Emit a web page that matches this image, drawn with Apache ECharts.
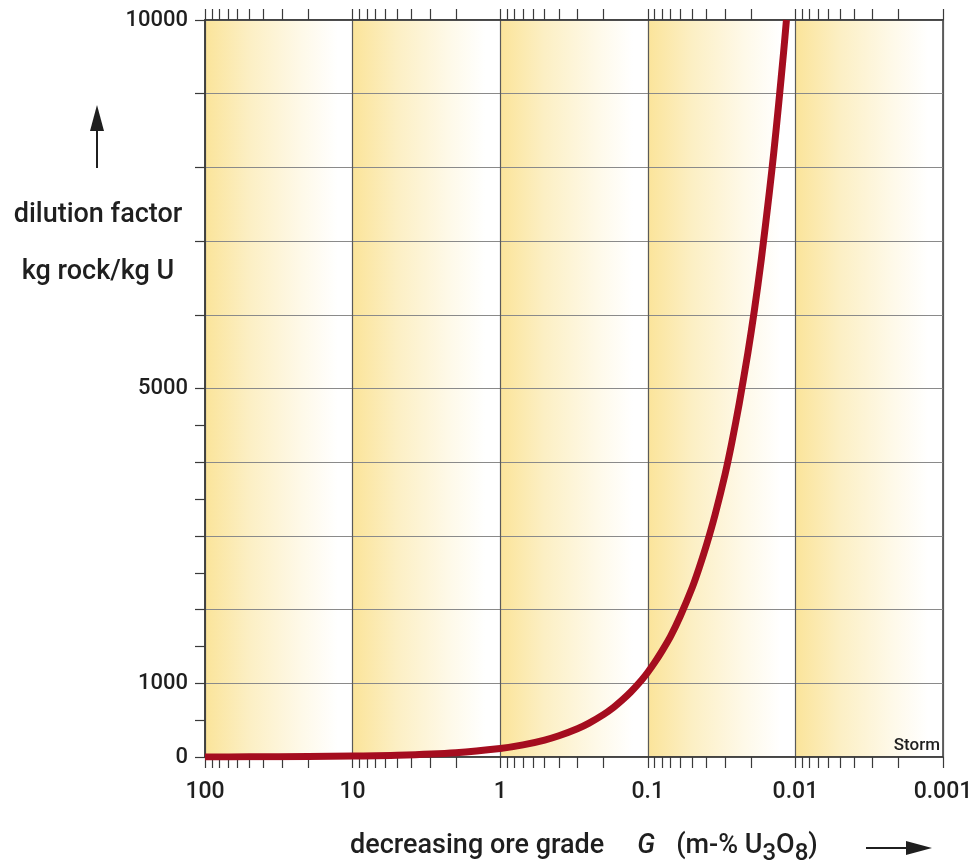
<!DOCTYPE html>
<html>
<head>
<meta charset="utf-8">
<script src="https://cdn.jsdelivr.net/npm/echarts@6/dist/echarts.min.js"></script>
<style>
  html, body { margin: 0; padding: 0; background: #ffffff; }
  #chart { width: 969px; height: 865px; }
</style>
</head>
<body>
<div id="chart"></div>
<script>
// Ore grade G (mass-% U3O8) and the matching dilution factor (kg rock per kg U)
const grade = [100, 50, 20, 10, 5, 2, 1, 0.7, 0.5, 0.4, 0.3, 0.25, 0.2, 0.17, 0.15, 0.13, 0.11, 0.1,
  0.09, 0.08, 0.07, 0.06, 0.05, 0.045, 0.04, 0.035, 0.03, 0.027, 0.024, 0.021, 0.019, 0.017,
  0.015, 0.014, 0.013, 0.012, 0.0115];
const dilution = [1, 2, 6, 12, 23, 58, 115, 164, 230, 288, 383, 460, 575, 676, 767, 885, 1045, 1150,
  1280, 1440, 1640, 1920, 2300, 2560, 2880, 3290, 3830, 4260, 4800, 5480, 6050, 6760,
  7670, 8210, 8850, 9580, 10000];

// Decades of the grade axis and their labels
const decades = [100, 10, 1, 0.1, 0.01, 0.001];
const decadeLabels = ['100', '10', '1', '0.1', '0.01', '0.001'];

// Labelled values of the dilution axis
const yLabelValues = [0, 1000, 5000, 10000];

const Y_MAX = 10000;

// Log ticks 1..9 within every decade
const gradeTicks = [];
for (let d = 1; d < decades.length; d++) {
  const base = decades[d];
  for (let k = 1; k <= 9; k++) gradeTicks.push(+(base * k).toPrecision(6));
}
gradeTicks.push(100);

// Dilution ticks: every 500 up to 5000, every 1000 above
const yTicks = [];
for (let v = 0; v <= Y_MAX; v += (v < 5000 ? 500 : 1000)) yTicks.push(v);

// One shaded band per decade
const bands = [];
for (let i = 0; i < decades.length - 1; i++) bands.push([decades[i], decades[i + 1]]);

const data = grade.map((g, i) => [g, dilution[i]]);

function decadeLabel(v) {
  const lv = Math.log10(v);
  for (let i = 0; i < decades.length; i++) {
    if (Math.abs(Math.log10(decades[i]) - lv) < 1e-6) return decadeLabels[i];
  }
  return '';
}

const FONT = 'Roboto, "Noto Sans", sans-serif';
const INK = '#1f1f1f';
const AXIS = '#3a3a3a';

const bandFill = new echarts.graphic.LinearGradient(0, 0, 1, 0, [
  { offset: 0, color: '#fbe49a' },
  { offset: 0.3, color: '#fcefc4' },
  { offset: 0.65, color: '#fef9e8' },
  { offset: 0.9, color: '#ffffff' },
  { offset: 1, color: '#ffffff' }
]);

const chart = echarts.init(document.getElementById('chart'), null, { renderer: 'canvas' });

const xCommon = {
  type: 'log',
  logBase: 10,
  min: 0.001,
  max: 100,
  inverse: true,
  gridIndex: 0
};

const tickStyle = { color: AXIS, width: 1.2 };
const lineStyle = { color: AXIS, width: 1.5 };

chart.setOption({
  animation: false,
  backgroundColor: '#ffffff',
  grid: {
    left: 205, right: 26, top: 20, bottom: 108,
    containLabel: false,
    outerBoundsMode: 'none',
    show: true, borderColor: AXIS, borderWidth: 1.5,
    backgroundColor: 'transparent'
  },
  xAxis: [
    Object.assign({}, xCommon, {
      position: 'bottom',
      axisLine: { show: true, onZero: false, lineStyle: lineStyle },
      axisTick: { show: true, inside: false, length: 11, customValues: gradeTicks, lineStyle: tickStyle },
      axisLabel: {
        show: true, customValues: decades, margin: 24,
        formatter: decadeLabel,
        fontFamily: FONT, fontSize: 23, fontWeight: 500, color: INK
      },
      splitLine: { show: false }
    }),
    Object.assign({}, xCommon, {
      position: 'top',
      axisLine: { show: true, onZero: false, lineStyle: lineStyle },
      axisTick: { show: true, inside: false, length: 11, customValues: gradeTicks, lineStyle: tickStyle },
      axisLabel: { show: false },
      splitLine: { show: false }
    }),
    // decade grid lines
    Object.assign({}, xCommon, {
      position: 'bottom',
      axisLine: { show: false },
      axisTick: { show: false },
      axisLabel: { show: false },
      splitLine: { show: true, lineStyle: { color: '#5a5a5a', width: 1.2 } }
    })
  ],
  yAxis: [
    {
      type: 'value',
      min: 0,
      max: Y_MAX,
      interval: 1000,
      axisLine: { show: true, onZero: false, lineStyle: lineStyle },
      axisTick: { show: true, inside: false, length: 10, customValues: yTicks, lineStyle: tickStyle },
      axisLabel: {
        show: true, customValues: yLabelValues, margin: 17,
        formatter: v => String(v),
        fontFamily: FONT, fontSize: 22, fontWeight: 500, color: INK
      },
      splitLine: { show: false }
    },
    // horizontal grid lines every 1000
    {
      type: 'value',
      min: 0,
      max: Y_MAX,
      interval: 1000,
      position: 'left',
      axisLine: { show: false },
      axisTick: { show: false },
      axisLabel: { show: false },
      splitLine: { show: true, lineStyle: { color: '#8a8a8a', width: 1.2 } }
    }
  ],
  series: [
    {
      // yellow-to-white shading across each decade
      type: 'custom',
      name: 'bands',
      xAxisIndex: 0,
      yAxisIndex: 0,
      z: -1,
      silent: true,
      data: bands,
      encode: { x: [0, 1] },
      renderItem: function (params, api) {
        const p1 = api.coord([api.value(0), Y_MAX]);
        const p2 = api.coord([api.value(1), 0]);
        return {
          type: 'rect',
          shape: { x: p1[0], y: p1[1], width: p2[0] - p1[0], height: p2[1] - p1[1] },
          style: { fill: bandFill }
        };
      }
    },
    {
      type: 'line',
      name: 'dilution factor',
      xAxisIndex: 0,
      yAxisIndex: 0,
      data: data,
      smooth: 0.25,
      showSymbol: false,
      clip: true,
      z: 5,
      lineStyle: { color: '#a50d1f', width: 7, cap: 'butt', join: 'round' }
    }
  ],
  graphic: [
    {
      type: 'text', z: 10,
      style: { text: 'dilution factor', x: 98, y: 215, align: 'center', verticalAlign: 'middle',
        font: '500 27px ' + FONT, fill: INK }
    },
    {
      type: 'text', z: 10,
      style: { text: 'kg rock/kg U', x: 98, y: 272, align: 'center', verticalAlign: 'middle',
        font: '500 27px ' + FONT, fill: INK }
    },
    {
      type: 'line', z: 10,
      shape: { x1: 97, y1: 168, x2: 97, y2: 128 },
      style: { stroke: INK, lineWidth: 2 }
    },
    {
      type: 'polygon', z: 10,
      shape: { points: [[97, 105], [90, 131], [104, 131]] },
      style: { fill: INK }
    },
    {
      type: 'text', z: 10,
      style: {
        x: 350, y: 846, verticalAlign: 'middle',
        text: '{n|decreasing ore grade}{sp|}{g|G}{sp2|}{n|(m-% U}{s|3}{n|O}{s|8}{n|)}',
        rich: {
          n: { font: '500 27px ' + FONT, fill: INK, verticalAlign: 'middle' },
          g: { font: 'italic 500 27px ' + FONT, fill: INK, verticalAlign: 'middle' },
          s: { font: '500 24px ' + FONT, fill: INK, padding: [16, 0, 0, 0], verticalAlign: 'middle' },
          sp: { width: 33 },
          sp2: { width: 21 }
        }
      }
    },
    {
      type: 'line', z: 10,
      shape: { x1: 866, y1: 848, x2: 912, y2: 848 },
      style: { stroke: INK, lineWidth: 2 }
    },
    {
      type: 'polygon', z: 10,
      shape: { points: [[932, 848], [906, 841], [906, 855]] },
      style: { fill: INK }
    },
    {
      type: 'text', z: 10,
      style: { text: 'Storm', x: 940, y: 746, align: 'right', verticalAlign: 'middle',
        font: '500 17px ' + FONT, fill: INK }
    }
  ]
});
</script>
</body>
</html>
